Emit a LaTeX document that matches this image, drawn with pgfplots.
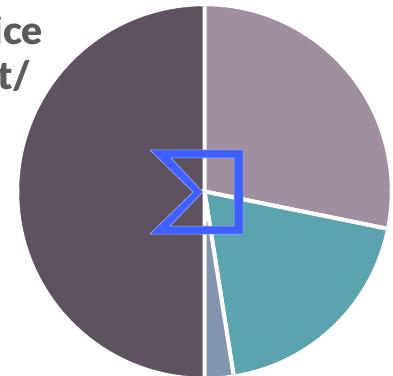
\documentclass[border=0pt]{standalone}
\usepackage{pgfplots}
\usepackage{fontspec}
\setmainfont{Lato}
\pgfplotsset{compat=1.18}
\definecolor{sliceA}{HTML}{A08F9F}
\definecolor{sliceB}{HTML}{5BA4AF}
\definecolor{sliceC}{HTML}{8295AD}
\definecolor{sliceD}{HTML}{5F5260}
\definecolor{sigmaBlue}{HTML}{3F60FF}
\definecolor{sigmaEdge}{HTML}{A6B6FF}
\definecolor{labelGrey}{HTML}{5C5C5C}
% A pie slice is one data point at the pie's centre; its columns give the
% cumulative shares (in percent) where the slice starts and ends.
\pgfplotsset{
  pixel axis/.style={
    at={(0,0)}, anchor=south west, scale only axis,
    width=393bp, height=376bp,
    xmin=0, xmax=393, ymin=0, ymax=376, y dir=reverse,
    hide axis, clip=false,
  },
  pie slice/.style={
    scatter, only marks, mark=none, clip=false,
    visualization depends on={\thisrow{from}\as\slicefrom},
    visualization depends on={\thisrow{to}\as\sliceto},
    scatter/@pre marker code/.code={
      \pgfmathsetmacro\angA{90-3.6*\slicefrom}
      \pgfmathsetmacro\angB{90-3.6*\sliceto}
      \fill[#1] (0,0) -- (\angA:185bp) arc[start angle=\angA, end angle=\angB, radius=185bp] -- cycle;
      \draw[white, line width=4bp] (\angA:185bp) -- (0,0) -- (\angB:185bp);
    },
    scatter/@post marker code/.code={},
  },
}
\begin{document}
\begin{tikzpicture}
\clip (0,0) rectangle (393bp,376bp);
\begin{axis}[pixel axis]
\addplot[pie slice=sliceD] table {
x y from to
204.5 191.5 50 100
};
\addplot[pie slice=sliceA] table {
x y from to
204.5 191.5 0 28.2
};
\addplot[pie slice=sliceB] table {
x y from to
204.5 191.5 28.2 47.5
};
\addplot[pie slice=sliceC] table {
x y from to
204.5 191.5 47.5 50
};
\node[anchor=base east, font=\fontsize{39bp}{39bp}\selectfont\fontspec{Lato Black}, text=labelGrey, inner sep=0pt] at (axis cs:43,45) {Price};
\node[anchor=base east, font=\fontsize{39bp}{39bp}\selectfont\fontspec{Lato Black}, text=labelGrey, inner sep=0pt] at (axis cs:31,90) {Cost/};
\end{axis}
% The sigma sits in a second axis so that it lies above the slices
\begin{axis}[pixel axis]
\addplot[fill=sigmaBlue, draw=none, even odd rule] coordinates {
  (150,150) (243,150) (243,234) (150,234) (193,192) (150,150)
  (171,158) (234,158) (234,226) (170,226) (203,192) (171,158) (150,150)
};
\addplot[draw=sigmaEdge, line width=0.5bp] coordinates {
  (150,150) (243,150) (243,234) (150,234) (193,192) (150,150)
};
\addplot[draw=sigmaEdge, line width=0.5bp] coordinates {
  (171,158) (234,158) (234,226) (170,226) (203,192) (171,158)
};
\end{axis}
\end{tikzpicture}
\end{document}
